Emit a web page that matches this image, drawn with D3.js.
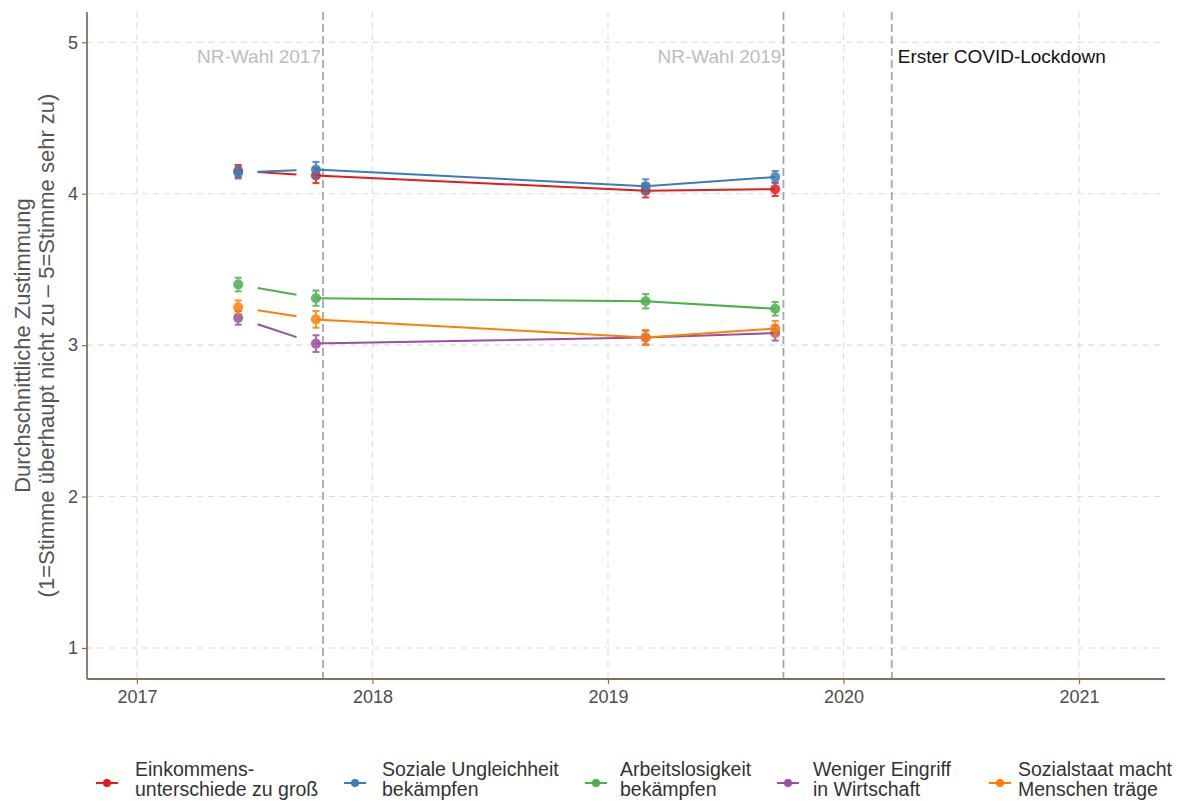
<!DOCTYPE html>
<html><head><meta charset="utf-8">
<script src="https://cdn.jsdelivr.net/npm/d3@7"></script>
<style>body{margin:0;background:#fff;}text{font-family:"Liberation Sans",Arial,sans-serif;}</style>
</head><body>
<svg id="chart" width="1179" height="801"></svg>
<script>
const waves = [2017.43, 2017.76, 2019.16, 2019.71];
const seriesNames = ["Einkommens-\nunterschiede zu groß","Soziale Ungleichheit\nbekämpfen","Arbeitslosigkeit\nbekämpfen","Weniger Eingriff\nin Wirtschaft","Sozialstaat macht\nMenschen träge"];
const seriesColors = ["#E41A1C","#377EB8","#4DAF4A","#984EA3","#FF7F00"];
const einkommen = [4.15, 4.12, 4.02, 4.03];
const ungleichheit = [4.14, 4.16, 4.05, 4.11];
const arbeitslos = [3.40, 3.31, 3.29, 3.24];
const eingriff = [3.18, 3.01, 3.05, 3.08];
const sozialstaat = [3.25, 3.17, 3.05, 3.11];
const errEinkommen = [0.040, 0.050, 0.045, 0.045];
const errUngleich = [0.040, 0.050, 0.045, 0.040];
const errArbeit = [0.045, 0.050, 0.048, 0.045];
const errEingriff = [0.045, 0.055, 0.045, 0.050];
const errSozial = [0.045, 0.055, 0.050, 0.050];
const yTicks = [1,2,3,4,5];
const xTicks = [2017,2018,2019,2020,2021];
const events = [{x:2017.79,label:"NR-Wahl 2017",side:"left",dark:false},
                {x:2019.745,label:"NR-Wahl 2019",side:"left",dark:false},
                {x:2020.205,label:"Erster COVID-Lockdown",side:"right",dark:true}];
const yTitle1 = "Durchschnittliche Zustimmung";
const yTitle2 = "(1=Stimme überhaupt nicht zu – 5=Stimme sehr zu)";

const values = [einkommen, ungleichheit, arbeitslos, eingriff, sozialstaat];
const errs = [errEinkommen, errUngleich, errArbeit, errEingriff, errSozial];

const svg = d3.select("#chart");
const L=87, R=1165, T=12, B=679;
const x = d3.scaleLinear().domain([2016.788, 2021.365]).range([L,R]);
const y = d3.scaleLinear().domain([0.795, 5.2]).range([B,T]);

// grid
const grid = svg.append("g");
grid.selectAll("line.gy").data(yTicks).join("line")
  .attr("x1",L).attr("x2",R).attr("y1",d=>y(d)).attr("y2",d=>y(d))
  .attr("stroke","#dcdcdc").attr("stroke-width",1.1).attr("stroke-dasharray","6,5");
grid.selectAll("line.gx").data(xTicks).join("line")
  .attr("y1",T).attr("y2",B).attr("x1",d=>x(d)).attr("x2",d=>x(d))
  .attr("stroke","#dcdcdc").attr("stroke-width",1.1).attr("stroke-dasharray","6,5");

// event lines
svg.append("g").selectAll("line").data(events).join("line")
  .attr("x1",d=>x(d.x)).attr("x2",d=>x(d.x)).attr("y1",T).attr("y2",B)
  .attr("stroke","#a8a8a8").attr("stroke-width",1.8).attr("stroke-dasharray","8,4");
svg.append("g").selectAll("text").data(events).join("text")
  .attr("x",d=>d.side==="left"? x(d.x)-2 : x(d.x)+6)
  .attr("y",63)
  .attr("text-anchor",d=>d.side==="left"?"end":"start")
  .attr("font-size",19)
  .attr("fill",d=>d.dark?"#111":"#bdbdbd")
  .text(d=>d.label);

// lines
const lineG = svg.append("g");
values.forEach((vals,i)=>{
  const pts = waves.map((w,j)=>[w, vals[j]]);
  const a=pts[0], b=pts[1];
  const t0=0.25, t1=0.75;
  lineG.append("line")
    .attr("x1",x(a[0]+(b[0]-a[0])*t0)).attr("y1",y(a[1]+(b[1]-a[1])*t0))
    .attr("x2",x(a[0]+(b[0]-a[0])*t1)).attr("y2",y(a[1]+(b[1]-a[1])*t1))
    .attr("stroke",seriesColors[i]).attr("stroke-width",2);
  lineG.append("path").datum(pts.slice(1))
    .attr("d",d3.line().x(d=>x(d[0])).y(d=>y(d[1])))
    .attr("fill","none").attr("stroke",seriesColors[i]).attr("stroke-width",2);
});

// error bars & points
const ptG = svg.append("g");
values.forEach((vals,i)=>{
  const g = ptG.append("g").attr("opacity",0.85);
  waves.forEach((w,j)=>{
    const cx=x(w), lo=y(vals[j]-errs[i][j]), hi=y(vals[j]+errs[i][j]);
    g.append("line").attr("x1",cx).attr("x2",cx).attr("y1",lo).attr("y2",hi)
      .attr("stroke",seriesColors[i]).attr("stroke-width",2);
    [lo,hi].forEach(yy=>g.append("line").attr("x1",cx-3.5).attr("x2",cx+3.5).attr("y1",yy).attr("y2",yy)
      .attr("stroke",seriesColors[i]).attr("stroke-width",2));
    g.append("circle").attr("cx",cx).attr("cy",y(vals[j])).attr("r",5).attr("fill",seriesColors[i]);
  });
});

// axes
const axisColor = "#85705e";
const yAxis = svg.append("g").attr("transform",`translate(${L},0)`)
  .call(d3.axisLeft(y).tickValues(yTicks).tickSize(5).tickPadding(4).tickFormat(d3.format("d")));
const xAxis = svg.append("g").attr("transform",`translate(0,${B})`)
  .call(d3.axisBottom(x).tickValues(xTicks).tickSize(5).tickPadding(6).tickFormat(d3.format("d")));
[yAxis,xAxis].forEach(a=>{
  a.attr("font-size",18).attr("font-family","Liberation Sans, Arial, sans-serif");
  a.select(".domain").remove();
  a.selectAll(".tick line").attr("stroke",axisColor).attr("stroke-width",1.2);
  a.selectAll(".tick text").attr("fill","#4d4d4d").style("font-size","18px");
});
svg.append("line").attr("x1",L).attr("x2",L).attr("y1",T).attr("y2",B).attr("stroke",axisColor).attr("stroke-width",1.8);
svg.append("line").attr("x1",L).attr("x2",R).attr("y1",B).attr("y2",B).attr("stroke",axisColor).attr("stroke-width",1.8);

// y title
const yc = (T+B)/2;
svg.append("text").attr("transform",`translate(22,${yc}) rotate(-90)`).attr("text-anchor","middle")
  .attr("dominant-baseline","central").attr("font-size",22).attr("fill","#555").text(yTitle1);
svg.append("text").attr("transform",`translate(46,${yc}) rotate(-90)`).attr("text-anchor","middle")
  .attr("dominant-baseline","central").attr("font-size",22).attr("fill","#555").text(yTitle2);

// legend
const keyX = [107, 355, 596, 788, 1000];
const textX = [135, 382, 620, 813, 1018];
const leg = svg.append("g");
seriesNames.forEach((name,i)=>{
  const ky=783;
  leg.append("line").attr("x1",keyX[i]-11).attr("x2",keyX[i]+11).attr("y1",ky).attr("y2",ky)
    .attr("stroke",seriesColors[i]).attr("stroke-width",2);
  leg.append("circle").attr("cx",keyX[i]).attr("cy",ky).attr("r",4).attr("fill",seriesColors[i]);
  const t = leg.append("text").attr("x",textX[i]).attr("y",776).attr("font-size",19.5).attr("fill","#333");
  name.split("\n").forEach((ln,k)=>t.append("tspan").attr("x",textX[i]).attr("y",776+k*20).text(ln));
});
</script>
</body></html>
